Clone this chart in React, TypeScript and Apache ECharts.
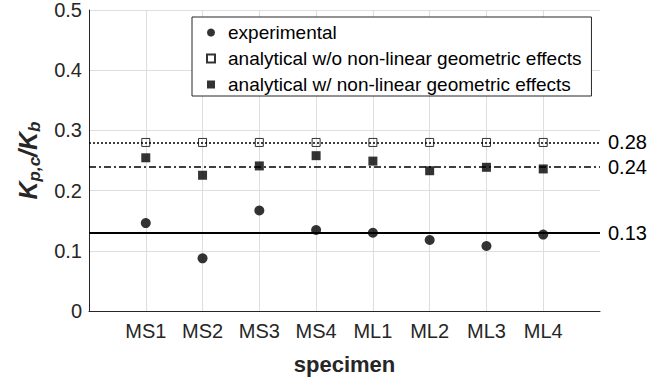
import React, { useEffect, useRef } from "react";
import * as echarts from "echarts";

const specimens = ["MS1", "MS2", "MS3", "MS4", "ML1", "ML2", "ML3", "ML4"];
const experimental = [0.146, 0.0875, 0.167, 0.1345, 0.130, 0.118, 0.108, 0.127];
const analyticalNoNL = [0.28, 0.28, 0.28, 0.28, 0.28, 0.28, 0.28, 0.28];
const analyticalNL = [0.2545, 0.2255, 0.241, 0.258, 0.249, 0.233, 0.2387, 0.236];
const refLines = { experimental: 0.127, noNL: 0.28, nl: 0.242 };
const yTicks = { min: 0, max: 0.5, interval: 0.1 };
const seriesNames = [
  "experimental",
  "analytical w/o non-linear geometric effects",
  "analytical w/ non-linear geometric effects",
];

const FONT = "Liberation Sans, Arial, Helvetica, sans-serif";
const TXT = "#262626";

export default function App() {
  const ref = useRef<HTMLDivElement>(null);
  useEffect(() => {
    document.body.style.margin = "0";
    if (!ref.current) return;
    const chart = echarts.init(ref.current, undefined, { renderer: "svg" });
    const xData = ["", ...specimens, ""];
    const toPts = (arr: number[]) => arr.map((v, i) => [i + 1, v]);
    const mkLine = (value: number, type: any, width: number) => ({
      silent: true,
      symbol: "none",
      animation: false,
      lineStyle: { color: "#000", type, width },
      label: {
        show: true,
        position: "end",
        distance: 8,
        formatter: (p: any) => Number(p.value).toFixed(2),
        fontSize: 20,
        fontFamily: FONT,
        color: "#000",
      },
      data: [{ yAxis: value }],
    });
    chart.setOption({
      animation: false,
      textStyle: { fontFamily: FONT },
      grid: { left: 89, right: 51, top: 10, bottom: 74, containLabel: false },
      legend: {
        orient: "vertical",
        left: 192,
        top: 17,
        padding: [6, 10, 2, 14],
        itemGap: 7,
        itemWidth: 8,
        itemHeight: 8,
        backgroundColor: "#fff",
        borderColor: TXT,
        borderWidth: 1,
        borderRadius: 0,
        textStyle: { fontSize: 19, color: "#000", fontFamily: FONT, padding: [0, 0, 0, 8] },
        data: seriesNames,
      },
      xAxis: {
        type: "category",
        data: xData,
        boundaryGap: false,
        name: "specimen",
        nameLocation: "middle",
        nameGap: 42,
        nameTextStyle: { fontSize: 22, fontWeight: "bold", color: TXT, fontFamily: FONT },
        axisLine: { lineStyle: { color: TXT, width: 1 } },
        axisTick: { show: false },
        axisLabel: { interval: 0, fontSize: 20, color: TXT, margin: 10, fontFamily: FONT },
        splitLine: {
          show: true,
          interval: (idx: number) => idx > 0 && idx < xData.length - 1,
          lineStyle: { color: "#dedede", width: 1 },
        },
      },
      yAxis: {
        type: "value",
        min: yTicks.min,
        max: yTicks.max,
        interval: yTicks.interval,
        name: "{k|K}{s|p,c}{k|/K}{s|b}",
        nameLocation: "middle",
        nameGap: 46,
        nameTextStyle: {
          rich: {
            k: { fontSize: 25, fontWeight: "bold", fontStyle: "italic", color: TXT, fontFamily: FONT, lineHeight: 30 },
            s: { fontSize: 17, fontWeight: "bold", fontStyle: "italic", color: TXT, fontFamily: FONT, lineHeight: 17, verticalAlign: "bottom" },
          },
        },
        axisLine: { show: true, lineStyle: { color: TXT, width: 1 } },
        axisTick: { show: false },
        axisLabel: { fontSize: 20, color: TXT, margin: 7, fontFamily: FONT },
        splitLine: { show: true, lineStyle: { color: "#dedede", width: 1 } },
      },
      series: [
        {
          name: seriesNames[0],
          type: "scatter",
          symbol: "circle",
          symbolSize: 10,
          itemStyle: { color: "#000" },
          data: toPts(experimental),
          markLine: mkLine(refLines.experimental, "solid", 2),
          z: 3,
        },
        {
          name: seriesNames[1],
          type: "scatter",
          symbol: "rect",
          symbolSize: 8,
          itemStyle: { color: "rgba(0,0,0,0)", borderColor: "#000", borderWidth: 1 },
          data: toPts(analyticalNoNL),
          markLine: mkLine(refLines.noNL, [2, 2], 1.5),
          z: 3,
        },
        {
          name: seriesNames[2],
          type: "scatter",
          symbol: "rect",
          symbolSize: 9,
          itemStyle: { color: "#000" },
          data: toPts(analyticalNL),
          markLine: mkLine(refLines.nl, [7, 3, 2, 3], 1.5),
          z: 3,
        },
      ],
    });
    return () => chart.dispose();
  }, []);
  return <div ref={ref} style={{ width: 651, height: 385 }} />;
}
